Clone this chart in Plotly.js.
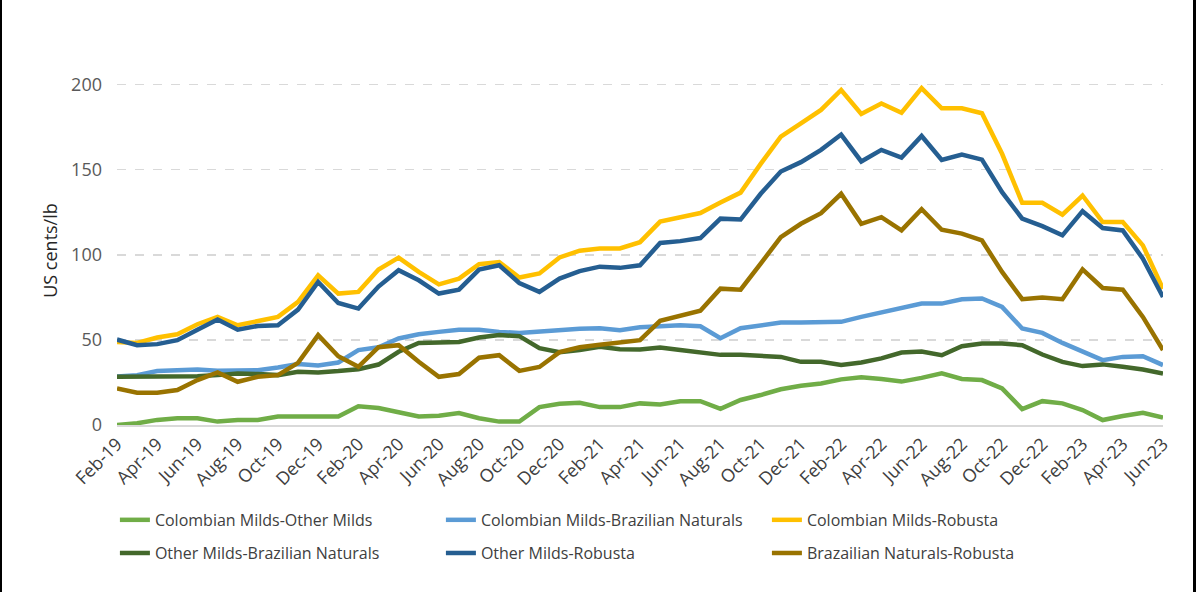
<!DOCTYPE html>
<html>
<head>
<meta charset="utf-8">
<script src="https://cdn.plot.ly/plotly-3.0.1.min.js"></script>
<style>
  html, body { margin: 0; padding: 0; background: #fff; }
  #wrap { position: relative; width: 1201px; height: 592px; overflow: hidden; }
  #chart { position: absolute; left: 0; top: 0; width: 1201px; height: 592px; }
  .bl { position: absolute; left: 0; top: 0; width: 2px; height: 592px; background: #000; }
  .br { position: absolute; left: 1193px; top: 0; width: 3px; height: 592px; background: #000; }
</style>
</head>
<body>
<div id="wrap">
  <div id="chart"></div>
  <div class="bl"></div>
  <div class="br"></div>
</div>
<script>
const months = [
  "Feb-19","Mar-19","Apr-19","May-19","Jun-19","Jul-19","Aug-19","Sep-19","Oct-19","Nov-19","Dec-19",
  "Jan-20","Feb-20","Mar-20","Apr-20","May-20","Jun-20","Jul-20","Aug-20","Sep-20","Oct-20","Nov-20","Dec-20",
  "Jan-21","Feb-21","Mar-21","Apr-21","May-21","Jun-21","Jul-21","Aug-21","Sep-21","Oct-21","Nov-21","Dec-21",
  "Jan-22","Feb-22","Mar-22","Apr-22","May-22","Jun-22","Jul-22","Aug-22","Sep-22","Oct-22","Nov-22","Dec-22",
  "Jan-23","Feb-23","Mar-23","Apr-23","May-23","Jun-23"
];

const seriesNames = [
  "Colombian Milds-Other Milds",
  "Colombian Milds-Brazilian Naturals",
  "Colombian Milds-Robusta",
  "Other Milds-Brazilian Naturals",
  "Other Milds-Robusta",
  "Brazailian Naturals-Robusta"
];

const colombianOther = [0,1,3,4,4,2,3,3,5,5,4.5,5,11,10,7.5,5,5.5,7,4,2,2,10.5,12.5,13,10.5,10.5,12.7,12,14,14,9.5,14.7,17.6,21,23,24.4,26.8,28,27,25.5,27.7,30.3,27,26.4,21.5,9.4,14,12.7,8.8,2.9,5.3,7.2,4.3];

const colombianBrazilian = [28.5,29.3,31.7,32.2,32.6,31.8,32.2,32.2,33.8,35.8,35,36.7,44,45.7,50.8,53.3,54.7,56,56,54.7,54.1,55,55.5,56.5,56.8,55.7,57.4,58.2,58.6,58,51,56.8,58.6,60.2,60.2,60.6,60.6,63.5,66.1,68.4,71.3,71.3,73.9,74.3,69.4,56.7,54.1,48.2,43,38.1,40,40.4,35.2];

const colombianRobusta = [48.8,48.2,51.4,53.3,59.2,63.5,58.6,61.1,63.5,72.3,87.9,77.2,78.2,91.3,98.3,89.9,82.6,86,94.4,95.7,86.6,89,98.4,102.4,103.7,103.7,107.4,119.5,122,124.5,130.7,136.5,153.4,169.4,177.2,185.1,196.8,182.7,188.9,183.4,197.9,186,186,183.1,159.3,130.5,130.5,123.5,134.8,119.2,119.2,105.5,80];

const otherBrazilian = [28.3,28.3,28.7,28.7,28.7,29.3,30.3,29.9,29.3,31.3,30.9,31.7,32.8,35.5,43,48.2,48.8,48.8,51.4,52.8,52.2,45.1,42.8,44,45.9,44.5,44.4,45.5,44,42.8,41.2,41.2,40.4,40,37.1,37.1,35.2,36.7,39.1,42.6,43.2,41,46.3,47.9,47.9,46.9,41.4,37.1,34.6,35.6,34.2,32.6,30.3];

const otherRobusta = [50.2,46.9,47.5,49.8,56,62,56,58.2,58.6,67.8,84,71.7,68.4,81.3,90.9,85,77.2,79.5,91.3,93.8,83.4,78.2,86,90.4,93,92.3,93.8,106.9,108,109.8,121.2,120.7,135.8,148.9,154.4,161.6,170.6,154.8,161.6,157.1,169.8,155.7,158.9,155.9,136.8,121.2,116.8,111.4,125.6,115.7,114.3,97.7,75.2];

const brazilianRobusta = [21.5,18.9,18.9,20.5,26.4,30.9,25.4,28.3,29.3,36.5,52.8,40.4,34.2,45.7,46.9,37.1,28.3,29.9,39.5,41,31.8,34.1,42.8,45.7,47.1,48.6,49.8,61.2,64.3,67.1,80.1,79.5,94.8,110.4,118.2,124.4,135.8,118.2,122.1,114.3,126.8,114.7,112.4,108.4,89.9,73.9,74.9,73.9,91.4,80.5,79.5,63.5,44];

const yTicks = [0, 50, 100, 150, 200];
const xTickLabels = months.filter((m, i) => i % 2 === 0);

const allSeries = [colombianOther, colombianBrazilian, colombianRobusta, otherBrazilian, otherRobusta, brazilianRobusta];
const colors = ["#70AD47", "#5B9BD5", "#FFC000", "#43682B", "#255E91", "#997300"];

const FONT = "Open Sans, Liberation Sans, sans-serif";

const traces = allSeries.map((vals, k) => ({
  type: "scatter",
  mode: "lines",
  x: months,
  y: vals,
  name: seriesNames[k],
  line: { color: colors[k], width: 4.5 },
  legend: k < 3 ? "legend" : "legend2",
  hoverinfo: "x+y+name"
}));

const legendCommon = {
  orientation: "h",
  xanchor: "left",
  yanchor: "middle",
  x: -0.002,
  entrywidth: 281,
  entrywidthmode: "pixels",
  font: { family: FONT, size: 16, color: "#404040" },
  bgcolor: "rgba(0,0,0,0)",
  traceorder: "normal"
};

const layout = {
  width: 1201,
  height: 592,
  margin: { l: 117, r: 38, t: 76, b: 167 },
  paper_bgcolor: "#ffffff",
  plot_bgcolor: "#ffffff",
  showlegend: true,
  font: { family: FONT, color: "#404040" },
  xaxis: {
    type: "category",
    range: [0, 52],
    tickmode: "array",
    tickvals: xTickLabels,
    ticktext: xTickLabels,
    tickangle: -45,
    tickfont: { family: FONT, size: 18, color: "#404040" },
    showgrid: false,
    showline: true,
    linecolor: "#D9D9D9",
    linewidth: 1.5,
    ticks: "",
    zeroline: false,
    fixedrange: true
  },
  yaxis: {
    range: [0, 205],
    tickmode: "array",
    tickvals: yTicks,
    ticktext: yTicks.map(String),
    tickfont: { family: FONT, size: 18, color: "#595959" },
    ticklabelstandoff: 14,
    showgrid: true,
    gridcolor: "#D9D9D9",
    griddash: "dash",
    gridwidth: 1.5,
    zeroline: false,
    showline: false,
    ticks: "",
    title: { text: "US cents/lb", font: { family: FONT, size: 18, color: "#262626" }, standoff: 8 },
    fixedrange: true
  },
  legend: Object.assign({}, legendCommon, { y: -0.272 }),
  legend2: Object.assign({}, legendCommon, { y: -0.367 })
};

Plotly.newPlot("chart", traces, layout, { displayModeBar: false, staticPlot: true });
</script>
</body>
</html>
